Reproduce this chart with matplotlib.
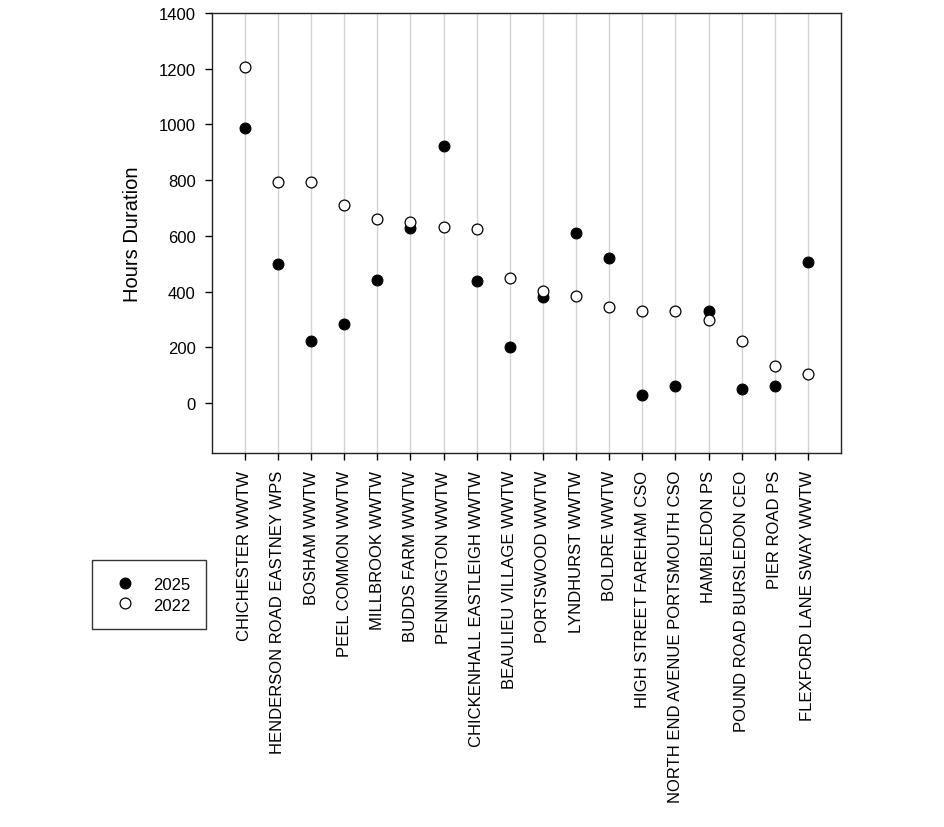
import matplotlib
matplotlib.use("Agg")
import matplotlib.pyplot as plt
import numpy as np

plt.rcParams['font.family'] = ['Liberation Sans', 'DejaVu Sans']

sites = ["CHICHESTER WWTW", "HENDERSON ROAD EASTNEY WPS", "BOSHAM WWTW",
         "PEEL COMMON WWTW", "MILLBROOK WWTW", "BUDDS FARM WWTW",
         "PENNINGTON WWTW", "CHICKENHALL EASTLEIGH WWTW", "BEAULIEU VILLAGE WWTW",
         "PORTSWOOD WWTW", "LYNDHURST WWTW", "BOLDRE WWTW",
         "HIGH STREET FAREHAM CSO", "NORTH END AVENUE PORTSMOUTH CSO",
         "HAMBLEDON PS", "POUND ROAD BURSLEDON CEO", "PIER ROAD PS",
         "FLEXFORD LANE SWAY WWTW"]
hours_2025 = [986, 500, 222, 284, 440, 628, 924, 438, 203, 382, 610, 521,
              30, 63, 330, 49, 60, 508]
hours_2022 = [1204, 794, 793, 712, 660, 649, 632, 625, 448, 403, 384, 344,
              332, 330, 298, 222, 135, 106]
yticks = [0, 200, 400, 600, 800, 1000, 1200, 1400]

fig = plt.figure(figsize=(9.45, 8.28), dpi=100)
ax = fig.add_axes([0.224, 0.4513, 0.666, 0.532])

x = np.arange(len(sites))
for xi in x:
    ax.axvline(xi, color='#d4d4d4', lw=1.0, zorder=0)

ax.plot(x, hours_2025, 'o', ls='none', color='black', markersize=7.8,
        markeredgecolor='black', markeredgewidth=0.8, label='2025', zorder=3)
ax.plot(x, hours_2022, 'o', ls='none', markerfacecolor='white', markersize=7.8,
        markeredgecolor='black', markeredgewidth=0.9, label='2022', zorder=4)

ax.set_xlim(-1, len(sites))
ax.set_ylim(-180, 1400)
ax.set_yticks(yticks)
ax.set_xticks(x)
ax.set_xticklabels(sites, rotation=90, fontsize=12)
ax.tick_params(axis='y', labelsize=12, length=5, width=1, direction='out', pad=6.5)
ax.tick_params(axis='x', length=5, width=1, direction='out', pad=7)
ax.set_ylabel('Hours Duration', fontsize=14.5, labelpad=12)
for s in ax.spines.values():
    s.set_linewidth(1.0)
    s.set_color('#222222')

leg = fig.legend(loc='upper left', bbox_to_anchor=(92/945, 1-561/828),
                 bbox_transform=fig.transFigure, borderaxespad=0,
                 fontsize=12, frameon=True, fancybox=False, edgecolor='black',
                 borderpad=0.94, handlelength=2.04, handleheight=1.1,
                 handletextpad=0.68, labelspacing=0.24, numpoints=1)
leg.get_frame().set_linewidth(1.0)

fig.savefig('out.png', dpi=100)
